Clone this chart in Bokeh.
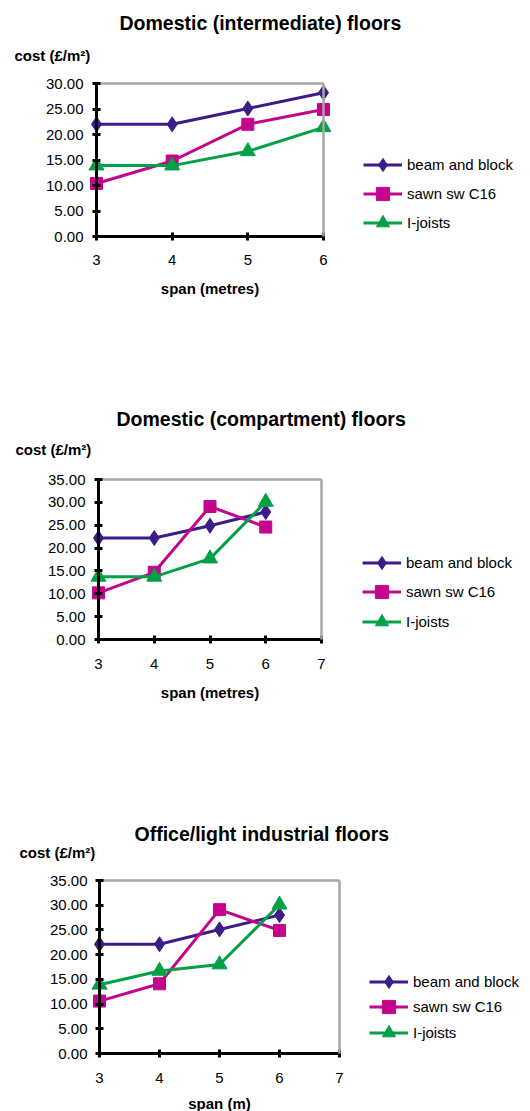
from bokeh.plotting import figure
from bokeh.models import (Range1d, LinearAxis, FixedTicker, NumeralTickFormatter,
                          Label, Legend, LegendItem)
from bokeh.layouts import column
from bokeh.embed import file_html
from bokeh.resources import INLINE

# ---------------- data ----------------
SERIES_NAMES = ["beam and block", "sawn sw C16", "I-joists"]
TITLES = ["Domestic (intermediate) floors",
          "Domestic (compartment) floors",
          "Office/light industrial floors"]
X_LABELS = ["span (metres)", "span (metres)", "span (m)"]
Y_LABEL = "cost (£/m²)"

SPAN_1 = [3, 4, 5, 6]
BEAM_1 = [22.0, 22.0, 25.1, 28.2]
SAWN_1 = [10.4, 14.8, 22.0, 24.9]
IJOIST_1 = [13.9, 13.9, 16.7, 21.4]
X_TICKS_1 = [3, 4, 5, 6]
Y_TICKS_1 = [0, 5, 10, 15, 20, 25, 30]

SPAN_2 = [3, 4, 5, 6]
BEAM_2 = [22.2, 22.2, 24.9, 27.9]
SAWN_2 = [10.2, 14.7, 29.1, 24.6]
IJOIST_2 = [13.7, 13.7, 17.7, 30.1]
X_TICKS_2 = [3, 4, 5, 6, 7]
Y_TICKS_2 = [0, 5, 10, 15, 20, 25, 30, 35]

SPAN_3 = [3, 4, 5, 6]
BEAM_3 = [22.1, 22.1, 25.1, 28.0]
SAWN_3 = [10.6, 14.1, 29.1, 24.9]
IJOIST_3 = [13.9, 16.7, 18.0, 30.1]
X_TICKS_3 = [3, 4, 5, 6, 7]
Y_TICKS_3 = [0, 5, 10, 15, 20, 25, 30, 35]

# ---------------- style / layout (page pixels) ----------------
COLORS = ["#3d1c8a", "#c2058c", "#03a046"]
MARKERS = ["diamond", "square", "triangle"]
MARKER_SIZES = [15, 12, 15]
FONT = "Liberation Sans"
GRAY = "#aaa6a6"
PAGE_W = 530
LEG_GLYPH_H = 33

LAYOUTS = [
    dict(fig_top=0, fig_h=400, ax_left=96, ax_right=323, ax_top=83, ax_bot=236,
         title_left=119, title_cy=22, ylab_left=14, ylab_cy=55, xlab_cy=288,
         leg_x=363, leg_first=164, leg_row=29, ylab_standoff=9, tick_standoff=14),
    dict(fig_top=400, fig_h=410, ax_left=98, ax_right=321, ax_top=479, ax_bot=639,
         title_left=116, title_cy=418, ylab_left=15, ylab_cy=449, xlab_cy=692,
         leg_x=362, leg_first=562, leg_row=29.5, ylab_standoff=9, tick_standoff=15),
    dict(fig_top=810, fig_h=301, ax_left=99, ax_right=339, ax_top=880, ax_bot=1053,
         title_left=134, title_cy=833, ylab_left=19, ylab_cy=852, xlab_cy=1103,
         leg_x=369, leg_first=981, leg_row=25.5, ylab_standoff=8, tick_standoff=15),
]


def make_axis(**kw):
    base = dict(minor_tick_line_color=None, major_tick_line_width=3,
                major_tick_in=4, major_tick_out=4,
                major_label_text_font=FONT, major_label_text_font_size="15px",
                major_label_text_color="black")
    base.update(kw)
    return LinearAxis(**base)


def make_chart(title, xlabel, span, series, xticks, yticks, L):
    fig_bot = L["fig_top"] + L["fig_h"]
    ppu = (L["ax_right"] - L["ax_left"]) / (xticks[-1] - xticks[0])
    ppv = (L["ax_bot"] - L["ax_top"]) / (yticks[-1] - yticks[0])
    x_range = Range1d(xticks[0] - L["ax_left"] / ppu,
                      xticks[0] + (PAGE_W - L["ax_left"]) / ppu)
    y_range = Range1d(yticks[0] - (fig_bot - L["ax_bot"]) / ppv,
                      yticks[-1] + (L["ax_top"] - L["fig_top"]) / ppv)
    p = figure(frame_width=PAGE_W, frame_height=L["fig_h"],
               x_range=x_range, y_range=y_range,
               x_axis_location=None, y_axis_location=None,
               toolbar_location=None, output_backend="svg", title_location=None,
               min_border=0, min_border_left=0, min_border_right=0,
               min_border_top=0, min_border_bottom=0)
    p.outline_line_color = None
    p.grid.visible = False
    p.background_fill_color = "white"
    p.border_fill_color = "white"

    # black axes with ticks/labels, fixed at the data corner
    ya = make_axis(fixed_location=xticks[0], bounds=(yticks[0], yticks[-1]),
                   ticker=FixedTicker(ticks=yticks),
                   formatter=NumeralTickFormatter(format="0.00"),
                   axis_line_color="black", axis_line_width=3,
                   major_tick_line_color="black",
                   major_label_standoff=L["ylab_standoff"])
    p.add_layout(ya, "left")
    xa = make_axis(fixed_location=yticks[0], bounds=(xticks[0], xticks[-1]),
                   ticker=FixedTicker(ticks=xticks),
                   axis_line_color="black", axis_line_width=3,
                   major_tick_line_color="black",
                   major_label_standoff=L["tick_standoff"])
    p.add_layout(xa, "below")

    # gray right / top border
    p.add_layout(LinearAxis(fixed_location=xticks[-1], bounds=(yticks[0], yticks[-1]),
                            ticker=FixedTicker(ticks=[]), axis_line_color=GRAY,
                            axis_line_width=2.5, major_tick_line_color=None,
                            minor_tick_line_color=None), "right")
    p.add_layout(LinearAxis(fixed_location=yticks[-1], bounds=(xticks[0], xticks[-1]),
                            ticker=FixedTicker(ticks=[]), axis_line_color=GRAY,
                            axis_line_width=2.5, major_tick_line_color=None,
                            minor_tick_line_color=None), "above")

    for i, (name, vals, color, marker, size) in enumerate(
            zip(SERIES_NAMES, series, COLORS, MARKERS, MARKER_SIZES)):
        r1 = p.line(span, vals, line_color=color, line_width=3)
        r2 = p.scatter(span, vals, marker=marker, size=size,
                       fill_color=color, line_color=color)
        # one single-entry legend per series, so rows can sit closer than the glyph box
        center = L["leg_first"] + i * L["leg_row"]
        legend = Legend(items=[LegendItem(label=name, renderers=[r1, r2])],
                        location=(L["leg_x"], fig_bot - (center + LEG_GLYPH_H / 2)),
                        glyph_width=39, glyph_height=LEG_GLYPH_H, label_height=LEG_GLYPH_H,
                        spacing=0, padding=0, margin=0, label_standoff=5,
                        label_text_font=FONT, label_text_font_size="15px",
                        label_text_color="black",
                        border_line_color=None, background_fill_alpha=0)
        p.add_layout(legend)

    def add_text(text, x, y, align, size):
        p.add_layout(Label(x=x, y=fig_bot - y, x_units="screen", y_units="screen",
                           text=text, text_align=align, text_baseline="middle",
                           text_font=FONT, text_font_size=size,
                           text_font_style="bold", text_color="black"))

    add_text(title, L["title_left"], L["title_cy"], "left", "19.5px")
    add_text(Y_LABEL, L["ylab_left"], L["ylab_cy"], "left", "15px")
    add_text(xlabel, (L["ax_left"] + L["ax_right"]) / 2, L["xlab_cy"], "center", "15px")
    return p


p1 = make_chart(TITLES[0], X_LABELS[0], SPAN_1, [BEAM_1, SAWN_1, IJOIST_1],
                X_TICKS_1, Y_TICKS_1, LAYOUTS[0])
p2 = make_chart(TITLES[1], X_LABELS[1], SPAN_2, [BEAM_2, SAWN_2, IJOIST_2],
                X_TICKS_2, Y_TICKS_2, LAYOUTS[1])
p3 = make_chart(TITLES[2], X_LABELS[2], SPAN_3, [BEAM_3, SAWN_3, IJOIST_3],
                X_TICKS_3, Y_TICKS_3, LAYOUTS[2])

page = column(p1, p2, p3, spacing=0)
open("out.html", "w").write(file_html(page, INLINE))
